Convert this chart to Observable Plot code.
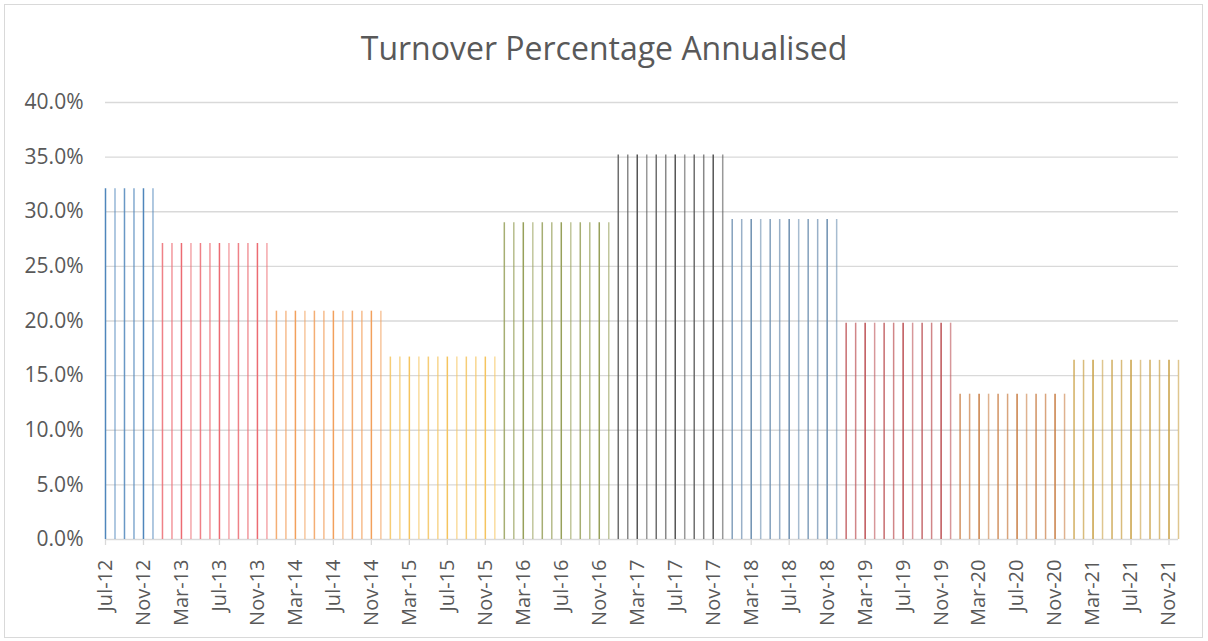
<!DOCTYPE html>
<html><head><meta charset="utf-8">
<script src="https://cdn.jsdelivr.net/npm/d3@7"></script>
<script src="https://cdn.jsdelivr.net/npm/@observablehq/plot@0.6"></script>
<style>
body{margin:0;background:#fff;}
#wrap{position:relative;width:1208px;height:641px;overflow:hidden;background:#fff;}
#frame{position:absolute;left:4px;top:4px;width:1199px;height:634px;border:1px solid #d9d9d9;box-sizing:border-box;}
#title{position:absolute;left:0;width:1208px;top:26px;text-align:center;font:32px "Open Sans",sans-serif;color:#595959;z-index:2;}
#chart svg{position:absolute;left:0;top:0;}
</style></head>
<body><div id="wrap"><div id="frame"></div><div id="title">Turnover Percentage Annualised</div><div id="chart"></div></div>
<script>
// Categories
const monthNames = ["Jan","Feb","Mar","Apr","May","Jun","Jul","Aug","Sep","Oct","Nov","Dec"];
const periodYears = [2012, 2013, 2014, 2015, 2016, 2017, 2018, 2019, 2020, 2021];
const periodFirstMonth = [7, 1, 1, 1, 1, 1, 1, 1, 1, 1]; // first month (1-12) shown in each year
// Annualised turnover for each year (same value for every month of that year)
const periodValues = [0.321, 0.271, 0.209, 0.167, 0.290, 0.352, 0.293, 0.198, 0.133, 0.164];
const periodColors = ["#4f86bb", "#ec6b72", "#f2a05c", "#f5c45e", "#97a05a", "#555555", "#6d8fb0", "#bd5256", "#c97e45", "#c9a044"];
const yTicks = [0, 0.05, 0.10, 0.15, 0.20, 0.25, 0.30, 0.35, 0.40];
const xTickLabels = ["Jul-12","Nov-12","Mar-13","Jul-13","Nov-13","Mar-14","Jul-14","Nov-14","Mar-15","Jul-15","Nov-15","Mar-16","Jul-16","Nov-16","Mar-17","Jul-17","Nov-17","Mar-18","Jul-18","Nov-18","Mar-19","Jul-19","Nov-19","Mar-20","Jul-20","Nov-20","Mar-21","Jul-21","Nov-21"];

// Build monthly table
const data = [];
periodYears.forEach((yr, p) => {
  for (let m = periodFirstMonth[p]; m <= 12; m++) {
    data.push({label: monthNames[m-1] + "-" + String(yr).slice(2), value: periodValues[p], color: periodColors[p], i: data.length});
  }
});
const domain = data.map(d => d.label);

const chart = Plot.plot({
  width: 1208,
  height: 641,
  marginLeft: 105,
  marginRight: 30,
  marginTop: 102,
  marginBottom: 102,
  style: {fontFamily: "'Open Sans', sans-serif", fontSize: "20px", color: "#595959", background: "transparent"},
  x: {type: "point", domain, padding: 0, label: null},
  y: {domain: [0, 0.40], label: null},
  color: {type: "identity"},
  marks: [
    Plot.ruleY(yTicks, {stroke: "#d9d9d9", strokeWidth: 1.3}),
    Plot.ruleX(data, {x: "label", y1: 0, y2: "value", stroke: "color", strokeWidth: 1.5,
      strokeOpacity: d => [1, 0.6, 0.85, 0.7][d.i % 4]}),
    Plot.axisY({ticks: yTicks, tickFormat: d => (d * 100).toFixed(1) + "%", tickSize: 0, tickPadding: 22, fill: "#595959", fontSize: 21, label: null}),
    Plot.axisX({ticks: xTickLabels, tickRotate: -90, tickSize: 6, tickPadding: 14, stroke: "#d9d9d9", fill: "#595959", fontSize: 20, strokeWidth: 1.3, label: null})
  ]
});
document.getElementById("chart").appendChild(chart);
</script>
</body></html>
